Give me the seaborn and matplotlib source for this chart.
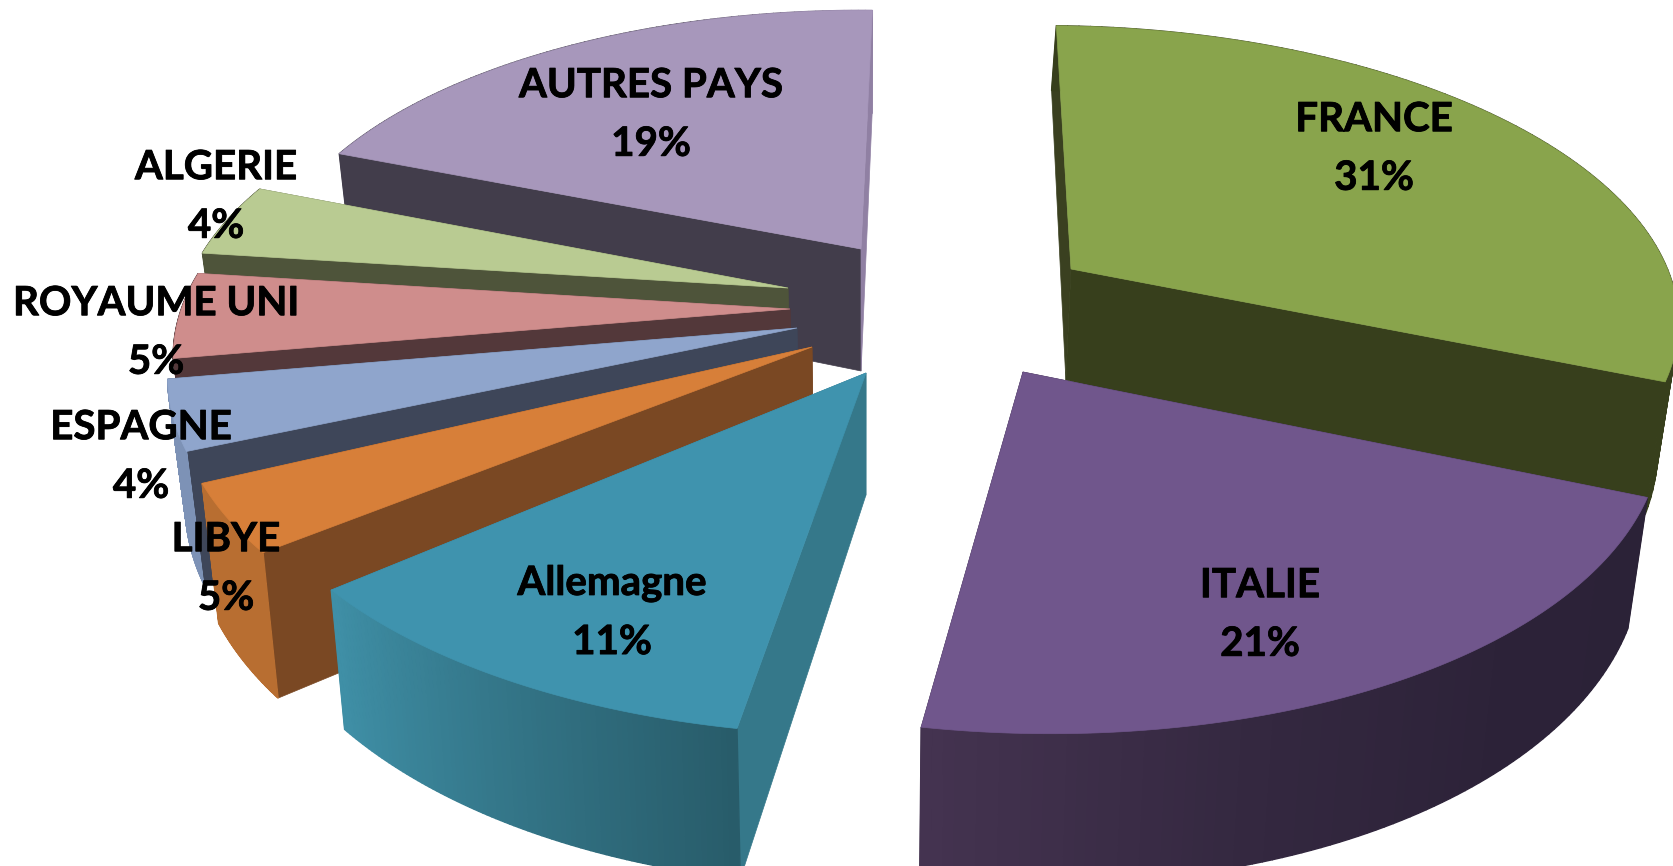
import numpy as np
import matplotlib
matplotlib.use('Agg')
import matplotlib.pyplot as plt
import matplotlib.patheffects as pe
import seaborn as sns

# donnees
pays = ['FRANCE', 'ITALIE', 'Allemagne', 'LIBYE', 'ESPAGNE', 'ROYAUME UNI', 'ALGERIE', 'AUTRES PAYS']
parts = [31, 21, 11, 5, 4, 5, 4, 19]

# couleurs: dessus, paroi debut, paroi fin, bord (teintes du degrade)
c_top = ['#89a44c', '#70568c', '#3f93ae', '#d77f39', '#8fa5cc', '#cf8d8c', '#b9cb92', '#a797bb']
c_start = ['#3a4020', '#2c2238', '#35788a', '#7a4823', '#3e4659', '#53383a', '#4e543a', '#423d4b']
c_end = ['#373f1c', '#2c2238', '#35788a', '#7a4823', '#3e4659', '#53383a', '#4e543a', '#9080a3']
c_rim = [('#373f1c', '#373f1c'), ('#2b2237', '#2c2238', '#342840', '#443350'), ('#285c6a', '#3f8fa6'),
         ('#b86e31', '#b86e31'), ('#7d92b6', '#7d92b6'), ('#53383a', '#53383a'), ('#4e543a', '#4e543a'),
         ('#423d4b', '#423d4b', '#423d4b', '#9080a3')]

# mise en page: pointe de chaque part (pixels), rayon, epaisseur, position des etiquettes
pointe_x = [1071, 1023, 866, 812, 797, 790, 788, 861]
pointe_y = [269, 372, 373, 347, 328, 309, 288, 249]
rayon = [0.965, 0.965, 0.965, 0.975, 0.975, 0.965, 0.965, 0.965]
epaisseur = [111, 121, 122, 129, 122, 122, 122, 122]
pente = [0.19, 0.08, 0.08, 0.08, 0.08, 0.08, 0.08, 0.08]
# decalage en degres des limites de chaque part (deformation du graphique 3D)
ajust_deb = [-1.2, -1, -2.9, -5.2, -2.2, -1.2, 0, 0]
ajust_fin = [-1, -2.9, -3.6, -0.3, -1.2, 0, 0, -1.2]
label_x = [1374, 1260, 612, 226, 141, 156, 216, 651]
label_y = [149, 615, 613, 569, 457, 333, 197, 115]
ordre = [7, 6, 5, 4, 3, 0, 2, 1]  # du fond vers l'avant

# perspective du plan du camembert
CX, CY, A, B, K = 865, 310, 631, 300, 0.15


def projeter(x, y):
    w = 1 / (1 + K * y)
    return CX + A * x * w, CY - B * y * w


def plan(sx, sy):
    u = (sx - CX) / A
    v = (CY - sy) / B
    y = v / (1 - K * v)
    return u * (1 + K * y), y


sns.set_theme(style='white')
plt.rcParams['font.family'] = ['Lato', 'DejaVu Sans']

fig = plt.figure(figsize=(16.74, 8.66), dpi=100)
ax = fig.add_axes([0, 0, 1, 1])

# le pie donne les angles, le dessin 3D est refait a partir d'eux
wedges, _ = ax.pie(parts, startangle=90, counterclock=False)
angles = [(w.theta2 + ajust_deb[i], w.theta1 + ajust_fin[i]) for i, w in enumerate(wedges)]
for w in wedges:
    w.remove()

ax.set_aspect('auto')
ax.set_xlim(0, 1674)
ax.set_ylim(866, 0)
ax.axis('off')

for rang, i in enumerate(ordre):
    px, py = pointe_x[i], pointe_y[i]
    ox, oy = plan(px, py)
    t = np.radians(np.linspace(angles[i][0], angles[i][1], 90))
    sx, sy = projeter(ox + rayon[i] * np.cos(t), oy + rayon[i] * np.sin(t))

    def bas(x, y):
        return CX + (x - CX) * 0.975, y + epaisseur[i] + pente[i] * (y - py)

    bx, by = bas(sx, sy)
    bpx, bpy = bas(px, py)

    # parois droites
    ax.fill([px, sx[0], bx[0], bpx], [py, sy[0], by[0], bpy], color=c_start[i], lw=0.5, zorder=1 + rang * 3)
    ax.fill([px, sx[-1], bx[-1], bpx], [py, sy[-1], by[-1], bpy], color=c_end[i], lw=0.5, zorder=1 + rang * 3)

    # bord courbe en degrade
    teintes = sns.blend_palette(c_rim[i], n_colors=len(t) - 1)
    for j in range(len(t) - 1):
        ax.fill([sx[j], sx[j + 1], bx[j + 1], bx[j]], [sy[j], sy[j + 1], by[j + 1], by[j]],
                color=teintes[j], lw=1, zorder=2 + rang * 3)

    # dessus
    ax.fill(np.r_[px, sx], np.r_[py, sy], color=c_top[i], lw=0.5, zorder=3 + rang * 3)

for nom, val, x, y in zip(pays, parts, label_x, label_y):
    txt = ax.text(x, y, f'{nom}\n{val}%', ha='center', va='center', fontsize=29, fontweight='bold',
                  color='black', linespacing=1.72, zorder=100)
    txt.set_path_effects([pe.withStroke(linewidth=0.6, foreground='black')])

fig.savefig('out.png', dpi=100)
